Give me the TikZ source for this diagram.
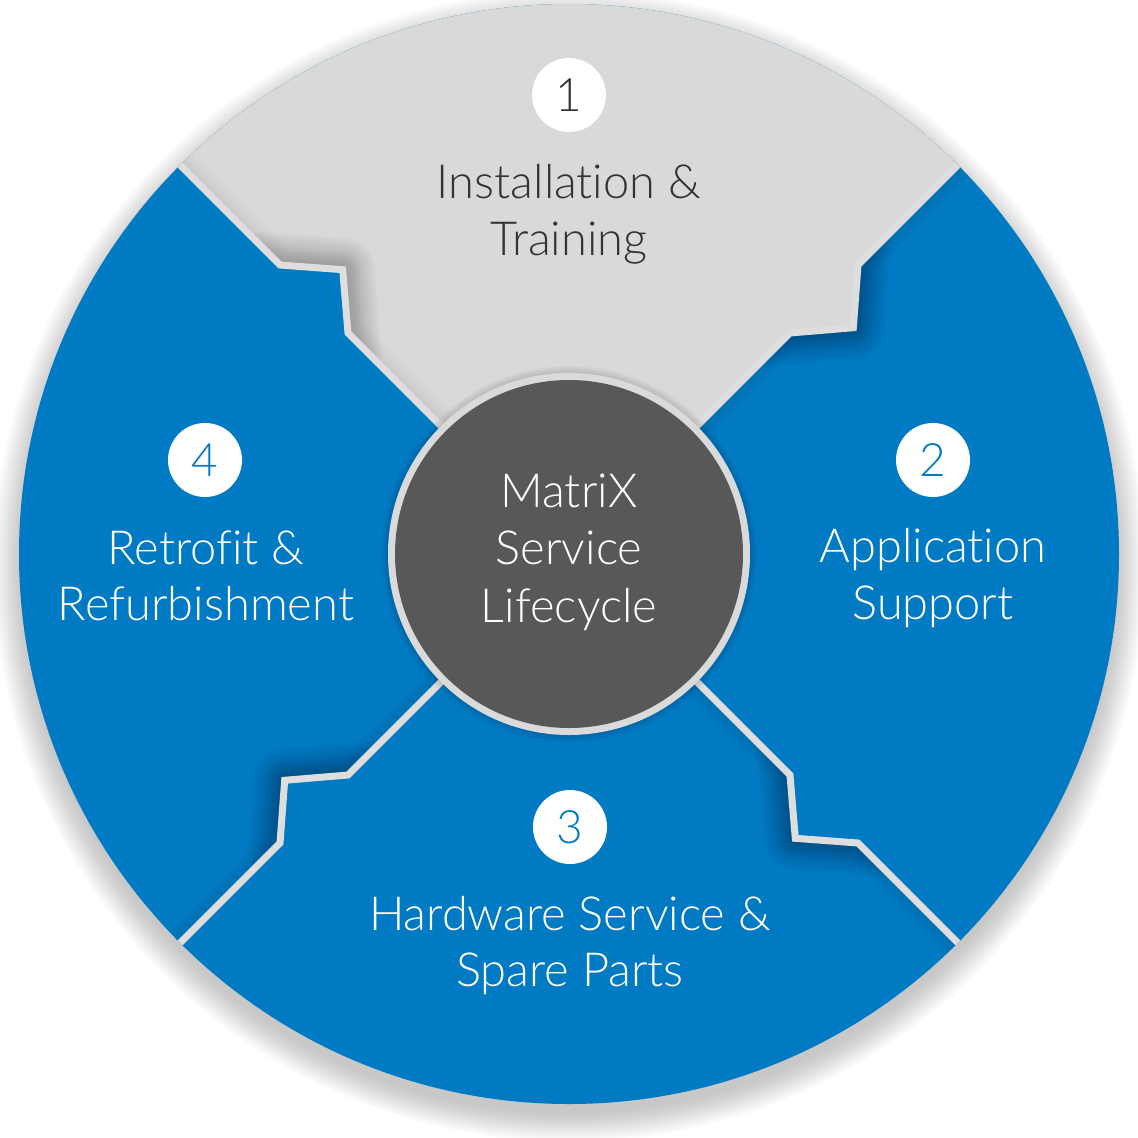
\documentclass[tikz,border=0pt]{standalone}
\usepackage{fontspec}
\usetikzlibrary{calc}
\setmainfont{Lato}[UprightFont={* Light}, Ligatures={NoCommon,NoRare}]
\definecolor{segblue}{RGB}{0,122,194}
\definecolor{seggray}{RGB}{217,217,217}
\definecolor{seamgray}{RGB}{222,222,222}
\definecolor{hubgray}{RGB}{88,88,88}
\definecolor{ringgray}{RGB}{218,218,218}
\definecolor{textdark}{RGB}{51,51,51}
\begin{document}
\begin{tikzpicture}[x=1pt,y=-1pt,
  lbl/.style={font=\fontsize{47}{57}\selectfont, anchor=base, inner sep=0pt},
  numdisc/.style={circle, fill=white, minimum size=74pt, inner sep=0pt, font=\fontsize{46}{46}\selectfont},
  seamline/.style={draw=seamgray, line width=7pt, miter limit=10},
  shadowline/.style={draw=black, line join=round, line cap=round}]
\useasboundingbox (0,0) rectangle (1138,1138);

% coordinates (relative to hub centre)
\begin{scope}[shift={(569,554)}]
  \coordinate (C) at (0,0);
  \coordinate (tl0) at (-120,-120);
  \coordinate (tl1) at (-221,-221);
  \coordinate (tl2) at (-226.3,-284.3);
  \coordinate (tl3) at (-289,-289);
  \coordinate (tl4) at (-389,-389);
  \coordinate (tlx) at (-700,-700);
  \coordinate (tr0) at (120,-120);
  \coordinate (tr1) at (221,-221);
  \coordinate (tr2) at (284.3,-226.3);
  \coordinate (tr3) at (289,-289);
  \coordinate (tr4) at (389,-389);
  \coordinate (trx) at (700,-700);
  \coordinate (br0) at (120,120);
  \coordinate (br1) at (221,221);
  \coordinate (br2) at (226.3,284.3);
  \coordinate (br3) at (289,289);
  \coordinate (br4) at (389,389);
  \coordinate (brx) at (700,700);
  \coordinate (bl0) at (-120,120);
  \coordinate (bl1) at (-221,221);
  \coordinate (bl2) at (-284.3,226.3);
  \coordinate (bl3) at (-289,289);
  \coordinate (bl4) at (-389,389);
  \coordinate (blx) at (-700,700);
\end{scope}

% outer drop shadow
\foreach \k in {1,...,20}
  \fill[black, opacity=0.011] (569,566) circle ({546+\k*1.5});

% disk
\fill[segblue] (C) circle (550);

\begin{scope}
  \clip (C) circle (550);
  % segment 1 (grey)
  \fill[seggray] (C) -- (tl1) -- (tl2) -- (tl3) -- (tlx) -- (trx) -- (tr3) -- (tr2) -- (tr1) -- cycle;

  % shadows near the notches
  \begin{scope}
    \clip (C) -- (tl1) -- (tl2) -- (tl3) -- (tlx) -- (trx) -- (tr3) -- (tr2) -- (tr1) -- cycle;
    \foreach \w in {4,9,...,64}
      \draw[shadowline, line width=\w pt, opacity=0.018] ($(tl1)!-0.5!(tl2)$) -- (tl2) -- ($(tl3)!-0.5!(tl2)$);
    \foreach \w in {4,10,...,34}
      \draw[shadowline, line width=\w pt, opacity=0.012] (tl0) -- (tl1) -- (tl2) -- (tl3) -- (tl4);
  \end{scope}
  \begin{scope}
    \clip (C) -- (tr1) -- (tr2) -- (tr3) -- (trx) -- (brx) -- (br3) -- (br2) -- (br1) -- cycle;
    \foreach \w in {4,9,...,64}
      \draw[shadowline, line width=\w pt, opacity=0.018] ($(tr1)!-0.5!(tr2)$) -- (tr2) -- ($(tr3)!-0.5!(tr2)$);
    \foreach \w in {4,10,...,34}
      \draw[shadowline, line width=\w pt, opacity=0.012] (tr0) -- (tr1) -- (tr2) -- (tr3) -- (tr4);
  \end{scope}
  \begin{scope}
    \clip (C) -- (br1) -- (br2) -- (br3) -- (brx) -- (blx) -- (bl3) -- (bl2) -- (bl1) -- cycle;
    \foreach \w in {4,9,...,64}
      \draw[shadowline, line width=\w pt, opacity=0.018] ($(br1)!-0.5!(br2)$) -- (br2) -- ($(br3)!-0.5!(br2)$);
    \foreach \w in {4,10,...,34}
      \draw[shadowline, line width=\w pt, opacity=0.012] (br0) -- (br1) -- (br2) -- (br3) -- (br4);
  \end{scope}
  \begin{scope}
    \clip (C) -- (bl1) -- (bl2) -- (bl3) -- (blx) -- (tlx) -- (tl3) -- (tl2) -- (tl1) -- cycle;
    \foreach \w in {4,9,...,64}
      \draw[shadowline, line width=\w pt, opacity=0.018] ($(bl1)!-0.5!(bl2)$) -- (bl2) -- ($(bl3)!-0.5!(bl2)$);
    \foreach \w in {4,10,...,34}
      \draw[shadowline, line width=\w pt, opacity=0.012] (bl0) -- (bl1) -- (bl2) -- (bl3) -- (bl4);
  \end{scope}

  % seams
  \draw[seamline] (tl0) -- (tl1) -- (tl2) -- (tl3) -- (tlx);
  \draw[seamline] (tr0) -- (tr1) -- (tr2) -- (tr3) -- (trx);
  \draw[seamline] (br0) -- (br1) -- (br2) -- (br3) -- (brx);
  \draw[seamline] (bl0) -- (bl1) -- (bl2) -- (bl3) -- (blx);
\end{scope}

% hub
\foreach \k in {1,...,6}
  \fill[black, opacity=0.02] (C) circle ({181+\k*1.2});
\fill[ringgray] (C) circle (181);
\node[circle, fill=hubgray, minimum size=348pt, inner sep=0pt] (hub) at (C) {};

% number discs
\node[numdisc, text=textdark] (n1) at (569,95) {1};
\node[numdisc, text=segblue] (n2) at (933,460) {2};
\node[numdisc, text=segblue] (n3) at (570,827) {3};
\node[numdisc, text=segblue] (n4) at (205,460) {4};

% labels
\node[lbl, text=textdark] (l1a) at (569,198) {Installation \&};
\node[lbl, text=textdark] (l1b) at (569,255) {Training};
\node[lbl, text=white] (l2a) at (933,562) {Application};
\node[lbl, text=white] (l2b) at (933,619) {Support};
\node[lbl, text=white] (l3a) at (570,930) {Hardware Service \&};
\node[lbl, text=white] (l3b) at (570,986) {Spare Parts};
\node[lbl, text=white] (l4a) at (206,564) {Retrofit \&};
\node[lbl, text=white] (l4b) at (206,620) {Refurbishment};
\node[lbl, text=white] (ca) at (569,507) {MatriX};
\node[lbl, text=white] (cb) at (569,564) {Service};
\node[lbl, text=white] (cc) at (569,622) {Lifecycle};
\end{tikzpicture}
\end{document}
